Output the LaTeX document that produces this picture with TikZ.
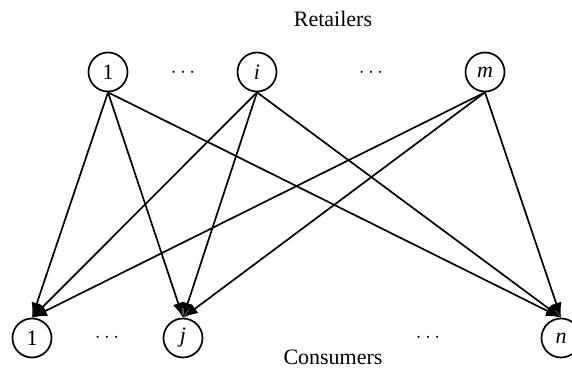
\documentclass[tikz,border=0pt]{standalone}
\usepackage{fontspec}
\setmainfont{Liberation Serif}
\usetikzlibrary{arrows.meta}
\begin{document}
\begin{tikzpicture}[x=1pt,y=1pt,
  agent/.style={circle,draw,line width=1.7pt,minimum size=39pt,inner sep=0pt,
    font=\fontsize{22}{26}\selectfont},
  flow/.style={line width=1.7pt,-{Latex[length=15pt,width=11pt]}},
  lbl/.style={font=\fontsize{22}{26}\selectfont,inner sep=0pt},
  gap/.style={font=\fontsize{22}{26}\selectfont,inner sep=0pt}]
\useasboundingbox (0,0) rectangle (572,373);

% retailers (top row)
\node[agent] (r1) at (108,301) {1};
\node[agent] (ri) at (257,301) {\textit{i}};
\node[agent] (rm) at (485,301) {\textit{m}};
\node[gap] (rd1) at (183,300) {$\cdots$};
\node[gap] (rd2) at (371,300) {$\cdots$};
\node[lbl,anchor=base] (ret) at (333,346) {Retailers};

% consumers (bottom row)
\node[agent] (c1) at (32,35) {1};
\node[agent] (cj) at (183,35) {\textit{j}};
\node[agent] (cn) at (561,35) {\textit{n}};
\node[gap] (cd1) at (107,35) {$\cdots$};
\node[gap] (cd2) at (428,35) {$\cdots$};
\node[lbl,anchor=base] (con) at (333,9) {Consumers};

% every retailer serves every consumer
\foreach \s in {r1,ri,rm}
  \foreach \t in {c1,cj,cn}
    \draw[flow] (\s.south) -- (\t.north);
\end{tikzpicture}
\end{document}
